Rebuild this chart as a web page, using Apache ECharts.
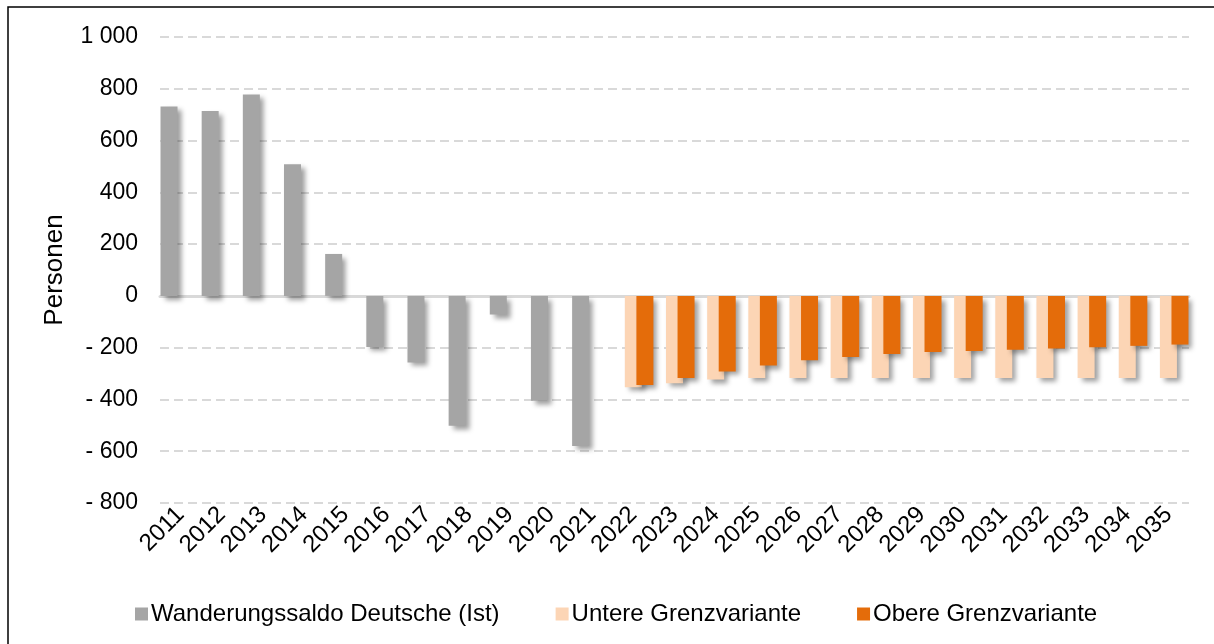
<!DOCTYPE html>
<html>
<head>
<meta charset="utf-8">
<script src="https://cdn.jsdelivr.net/npm/echarts@6/dist/echarts.min.js"></script>
<style>
html,body{margin:0;padding:0;background:#fff;}
#chart{width:1214px;height:644px;}
</style>
</head>
<body>
<div id="chart"></div>
<script>
var years = ['2011','2012','2013','2014','2015','2016','2017','2018','2019','2020','2021','2022','2023','2024','2025','2026','2027','2028','2029','2030','2031','2032','2033','2034','2035'];
var istValues = [732, 714, 778, 508, 162, -197, -257, -502, -72, -405, -580, null, null, null, null, null, null, null, null, null, null, null, null, null, null];
var untereValues = [null, null, null, null, null, null, null, null, null, null, null, -353, -337, -323, -317, -317, -317, -317, -317, -317, -317, -317, -317, -317, -317];
var obereValues = [null, null, null, null, null, null, null, null, null, null, null, -344, -317, -292, -269, -249, -236, -224, -217, -213, -208, -203, -198, -193, -188];
var seriesNames = ['Wanderungssaldo Deutsche (Ist)', 'Untere Grenzvariante', 'Obere Grenzvariante'];
var seriesColors = ['#a5a5a5', '#fcd5b5', '#e46c0a'];
var yTicks = {min: -800, max: 1000, interval: 200};

function fmtNum(v) {
  var a = Math.abs(v);
  var s = String(a).replace(/\B(?=(\d{3})+(?!\d))/g, ' ');
  return v < 0 ? '- ' + s : s;
}

var FONT = 'Liberation Sans, Arial, sans-serif';
var shadow = {shadowBlur: 5, shadowOffsetX: 4, shadowOffsetY: 4, shadowColor: 'rgba(0,0,0,0.38)'};

function mkSeries(i, data) {
  return {
    name: seriesNames[i],
    type: 'bar',
    data: data,
    barWidth: 17,
    barGap: '-32%',
    xAxisIndex: 0,
    itemStyle: Object.assign({color: seriesColors[i]}, shadow),
    emphasis: {disabled: true},
    animation: false
  };
}

var chart = echarts.init(document.getElementById('chart'), null, {renderer: 'canvas'});
chart.setOption({
  backgroundColor: '#fff',
  animation: false,
  grid: {left: 160, right: 25, top: 37, bottom: 141, containLabel: false},
  graphic: [{
    type: 'rect', silent: true, z: 100,
    shape: {x: 8, y: 7, width: 1230, height: 660},
    style: {fill: 'none', stroke: '#000', lineWidth: 1.5}
  }],
  legend: {
    data: seriesNames,
    left: 135,
    top: 602,
    padding: 0,
    icon: 'rect',
    itemWidth: 13,
    itemHeight: 13,
    itemGap: 56,
    textStyle: {fontFamily: FONT, fontSize: 24, color: '#000', padding: [0, 0, 0, -2]},
    selectedMode: false
  },
  xAxis: [{
    type: 'category',
    data: years,
    position: 'bottom',
    axisLine: {show: false, onZero: false},
    axisTick: {show: false},
    axisLabel: {rotate: 45, fontFamily: FONT, fontSize: 24, color: '#000', margin: 8, interval: 0},
    splitLine: {show: false}
  }, {
    type: 'category',
    data: years,
    position: 'bottom',
    axisLine: {show: true, onZero: true, lineStyle: {color: '#d9d9d9', width: 3}},
    axisTick: {show: false},
    axisLabel: {show: false},
    splitLine: {show: false}
  }],
  yAxis: {
    type: 'value',
    min: yTicks.min,
    max: yTicks.max,
    interval: yTicks.interval,
    name: 'Personen',
    nameLocation: 'middle',
    nameGap: 92,
    nameTextStyle: {fontFamily: FONT, fontSize: 26, color: '#000'},
    axisLine: {show: false},
    axisTick: {show: false},
    axisLabel: {fontFamily: FONT, fontSize: 23, color: '#000', margin: 22, formatter: fmtNum},
    splitLine: {show: true, lineStyle: {color: '#d9d9d9', width: 2, type: [9, 5]}}
  },
  series: [mkSeries(0, istValues), mkSeries(1, untereValues), mkSeries(2, obereValues)]
});
</script>
</body>
</html>
